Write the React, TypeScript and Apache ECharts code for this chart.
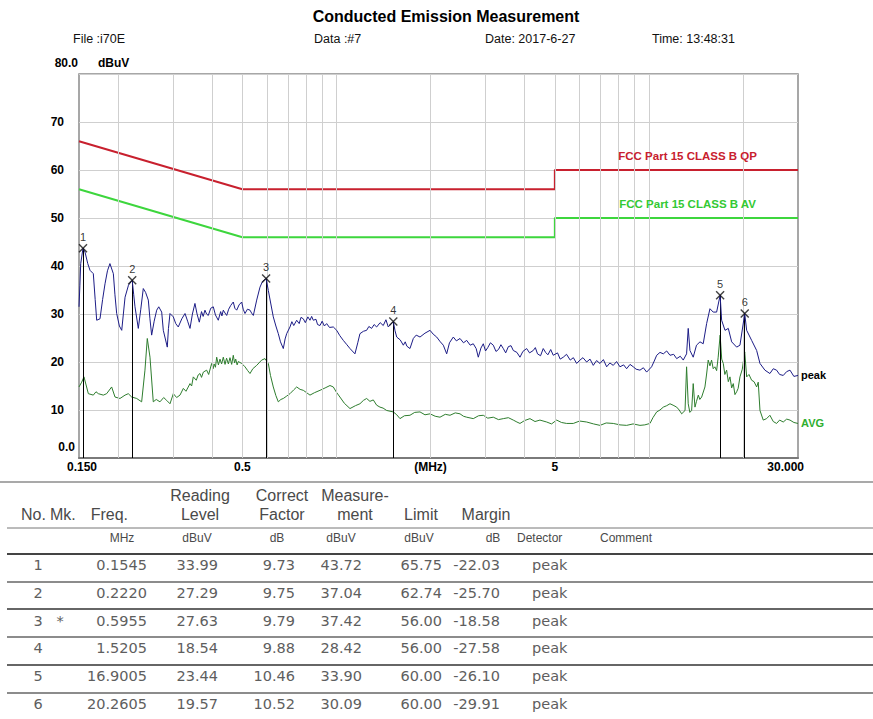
import React, { useEffect, useRef } from 'react';
import * as echarts from 'echarts';

// ---------- texts ----------
const chartTitle = 'Conducted Emission Measurement';
const headerItems = ['File :i70E', 'Data :#7', 'Date: 2017-6-27', 'Time: 13:48:31'];
const yUnit = 'dBuV';
const yTopLabel = '80.0';
const yBottomLabel = '0.0';
const yTickValues = [10, 20, 30, 40, 50, 60, 70];
const xTickValues = [0.15, 0.5, 2, 5, 30];
const xTickLabels = ['0.150', '0.5', '(MHz)', '5', '30.000'];
const gridFreqs = [0.2, 0.3, 0.4, 0.5, 0.6, 0.7, 0.8, 0.9, 1, 2, 3, 4, 5, 6, 7, 8, 9, 10, 20];

// ---------- limits ----------
const qpLimitName = 'FCC Part 15 CLASS B QP';
const avLimitName = 'FCC Part 15 CLASS B AV';
const limitFreq = [0.15, 0.5, 5, 5, 30];
const qpLimitVal = [66, 56, 56, 60, 60];
const avLimitVal = [56, 46, 46, 50, 50];
const limitLabelFreq = 13.3;

// ---------- traces (MHz, dBuV) ----------
const peakTrace: [number, number][] = [
  [0.150, 31.5], [0.1510, 36.0], [0.1519, 40.5], [0.1545, 43.72], [0.1568, 42.9], [0.1600, 40.5],
  [0.1627, 39.1], [0.1667, 38.4], [0.1690, 33.0], [0.1709, 28.7], [0.1751, 29.0], [0.1785, 33.0],
  [0.1817, 36.3], [0.1850, 39.0], [0.1884, 40.5], [0.1932, 38.4], [0.1955, 34.0], [0.1980, 30.1],
  [0.2020, 27.5], [0.2055, 26.6], [0.2080, 30.0], [0.2106, 33.5], [0.2160, 36.0], [0.2220, 37.04],
  [0.2245, 34.0], [0.2266, 31.5], [0.2322, 27.0], [0.2365, 31.0], [0.2409, 35.3], [0.2450, 34.5],
  [0.2500, 32.9], [0.2530, 29.0], [0.2562, 25.6], [0.2610, 28.5], [0.2659, 30.8], [0.2700, 31.5],
  [0.2759, 30.4], [0.2792, 26.6], [0.2875, 23.1], [0.2900, 27.0], [0.2933, 30.1], [0.3006, 29.4],
  [0.3060, 28.0], [0.3117, 27.3], [0.3200, 29.0], [0.3276, 30.1], [0.3340, 28.5], [0.3399, 27.0],
  [0.3460, 30.0], [0.3525, 32.2], [0.3580, 30.0], [0.3640, 28.3], [0.3700, 30.5], [0.3745, 29.5],
  [0.3795, 30.8], [0.3840, 30.0], [0.3889, 29.7], [0.3960, 31.2], [0.4035, 31.5], [0.4100, 29.8],
  [0.4186, 28.7], [0.4260, 30.5], [0.4300, 29.6], [0.4344, 30.8], [0.4400, 30.2], [0.4454, 29.7],
  [0.4520, 31.0], [0.4590, 31.8], [0.4676, 32.5], [0.4730, 31.2], [0.4794, 30.8], [0.4880, 31.9],
  [0.4974, 32.5], [0.5030, 31.0], [0.5097, 30.1], [0.5190, 31.0], [0.5289, 30.8], [0.5350, 30.2],
  [0.5420, 29.7], [0.5556, 32.9], [0.5693, 35.6], [0.5800, 36.8], [0.5955, 37.42], [0.6053, 34.9],
  [0.6150, 32.5], [0.6279, 29.4], [0.6400, 27.5], [0.6515, 25.9], [0.6620, 24.2], [0.6760, 22.8],
  [0.6850, 24.8], [0.6930, 25.9], [0.7101, 27.3], [0.7200, 28.4], [0.7300, 27.6], [0.7460, 28.7],
  [0.7600, 28.0], [0.7700, 29.3], [0.7833, 29.0], [0.7950, 28.2], [0.8100, 29.4], [0.8229, 28.7],
  [0.8330, 29.5], [0.8432, 28.7], [0.8600, 28.9], [0.8700, 27.8], [0.8858, 27.6], [0.9000, 28.5],
  [0.9150, 27.5], [0.9305, 28.0], [0.9500, 27.2], [0.9771, 27.3], [1.0017, 26.6], [1.025, 25.5],
  [1.052, 24.5], [1.080, 23.6], [1.105, 22.8], [1.146, 21.7], [1.170, 24.0], [1.189, 25.9],
  [1.220, 26.4], [1.249, 26.6], [1.270, 27.4], [1.296, 27.0], [1.320, 27.8], [1.345, 27.3],
  [1.380, 28.2], [1.412, 27.6], [1.440, 28.8], [1.465, 27.3], [1.5205, 28.42], [1.540, 26.5],
  [1.559, 25.2], [1.600, 24.6], [1.637, 23.5], [1.660, 24.2], [1.680, 23.3], [1.719, 22.8],
  [1.762, 24.9], [1.800, 25.6], [1.851, 25.2], [1.920, 26.0], [1.993, 26.6], [2.040, 25.8],
  [2.093, 25.2], [2.150, 24.2], [2.198, 23.5], [2.253, 21.7], [2.300, 24.0], [2.366, 25.2],
  [2.420, 24.4], [2.486, 24.9], [2.550, 24.0], [2.611, 24.5], [2.680, 23.5], [2.741, 23.8],
  [2.800, 22.8], [2.844, 21.0], [2.900, 22.9], [2.951, 23.8], [3.000, 22.3], [3.050, 23.0],
  [3.110, 24.0], [3.177, 23.5], [3.240, 22.2], [3.300, 22.6], [3.360, 23.6], [3.420, 22.8],
  [3.480, 21.9], [3.550, 23.2], [3.620, 23.4], [3.681, 22.4], [3.780, 22.0], [3.867, 21.0],
  [3.950, 22.2], [4.062, 22.8], [4.150, 21.9], [4.265, 22.4], [4.330, 23.0], [4.400, 21.7],
  [4.500, 21.3], [4.590, 22.8], [4.670, 22.0], [4.750, 21.5], [4.850, 22.6], [4.941, 21.4],
  [5.100, 21.9], [5.200, 20.6], [5.320, 21.0], [5.450, 21.6], [5.600, 20.4], [5.730, 20.9],
  [5.871, 19.7], [6.016, 20.4], [6.150, 20.9], [6.320, 20.0], [6.480, 20.6], [6.636, 19.3],
  [6.800, 20.3], [6.972, 19.7], [7.150, 20.5], [7.325, 19.0], [7.500, 19.8], [7.690, 19.3],
  [7.880, 20.1], [8.079, 19.0], [8.300, 19.4], [8.487, 18.6], [8.700, 19.5], [8.911, 19.0],
  [9.100, 18.5], [9.362, 18.3], [9.600, 18.8], [9.834, 17.9], [10.20, 19.0], [10.40, 20.2],
  [10.59, 21.4], [10.85, 22.0], [11.12, 21.7], [11.40, 22.3], [11.68, 21.4], [12.00, 21.6],
  [12.27, 20.7], [12.60, 21.2], [12.88, 20.4], [13.20, 21.7], [13.36, 27.0], [13.53, 22.4],
  [13.86, 21.0], [14.20, 23.5], [14.57, 24.2], [14.92, 23.8], [15.30, 28.0], [15.68, 31.1],
  [16.06, 30.4], [16.47, 30.4], [16.9005, 33.9], [17.09, 28.7], [17.52, 26.6], [17.95, 27.0],
  [18.40, 24.2], [19.09, 23.1], [19.56, 23.5], [20.2605, 30.09], [20.55, 26.6], [21.32, 24.5],
  [22.12, 22.4], [22.67, 19.7], [23.51, 18.3], [24.39, 17.6], [25.00, 18.6], [25.62, 18.3],
  [26.20, 17.4], [26.91, 17.2], [27.60, 18.0], [28.28, 18.3], [29.10, 17.0], [30.0, 17.2],
];

const avgTrace: [number, number][] = [
  [0.150, 14.8], [0.153, 15.8], [0.1556, 16.9], [0.1607, 13.4], [0.1667, 13.1], [0.1700, 13.8],
  [0.1730, 13.4], [0.1794, 13.1], [0.1839, 13.4], [0.1908, 14.8], [0.1956, 12.7], [0.2029, 12.4],
  [0.2106, 13.1], [0.2157, 13.4], [0.2212, 12.7], [0.2295, 12.4], [0.2380, 11.7], [0.2439, 18.3],
  [0.2481, 24.9], [0.2531, 21.0], [0.2593, 11.7], [0.2650, 12.2], [0.2724, 11.7], [0.2800, 12.6],
  [0.2862, 12.0], [0.2933, 11.3], [0.3006, 13.4], [0.3080, 12.6], [0.3157, 13.1], [0.3236, 14.5],
  [0.3300, 13.9], [0.3399, 15.5], [0.3440, 15.0], [0.3482, 16.9], [0.3560, 16.2], [0.3610, 17.3],
  [0.3659, 17.6], [0.3700, 16.8], [0.3750, 17.9], [0.3843, 18.3], [0.3900, 17.4], [0.3987, 19.7],
  [0.4030, 18.6], [0.4060, 19.6], [0.4100, 18.9], [0.4137, 21.0], [0.4190, 19.4], [0.4239, 20.6],
  [0.4290, 19.6], [0.4344, 21.0], [0.4400, 19.5], [0.4450, 20.8], [0.4510, 19.6], [0.4563, 20.9],
  [0.4620, 19.5], [0.4676, 21.4], [0.4720, 19.8], [0.4760, 20.6], [0.4810, 19.4], [0.4852, 20.1],
  [0.4974, 19.7], [0.5097, 19.0], [0.5200, 18.2], [0.5289, 17.6], [0.5400, 18.6], [0.5556, 19.3],
  [0.5763, 20.4], [0.5906, 20.7], [0.6053, 19.7], [0.6150, 17.2], [0.6279, 14.8], [0.6400, 13.0],
  [0.6515, 11.7], [0.6640, 12.2], [0.6760, 12.4], [0.6930, 12.9], [0.7101, 13.4], [0.7300, 14.2],
  [0.7460, 14.8], [0.7650, 14.3], [0.7833, 14.1], [0.8030, 13.6], [0.8229, 13.1], [0.8500, 13.6],
  [0.8858, 14.1], [0.9200, 14.6], [0.9534, 15.1], [0.9771, 14.8], [1.000, 13.7], [1.026, 12.7],
  [1.060, 11.4], [1.105, 10.3], [1.150, 10.9], [1.189, 11.3], [1.220, 12.0], [1.249, 12.4],
  [1.280, 11.8], [1.312, 12.1], [1.345, 11.0], [1.378, 10.6], [1.410, 10.4], [1.448, 9.9],
  [1.5205, 9.6], [1.560, 9.0], [1.597, 8.2], [1.650, 8.8], [1.719, 8.9], [1.780, 9.5],
  [1.851, 9.6], [1.920, 9.0], [1.993, 9.2], [2.070, 8.7], [2.145, 8.5], [2.230, 9.1],
  [2.309, 8.9], [2.400, 9.4], [2.486, 9.2], [2.550, 8.7], [2.611, 8.5], [2.741, 8.2],
  [2.850, 8.8], [2.951, 8.9], [3.050, 8.3], [3.177, 8.5], [3.300, 8.0], [3.420, 8.2],
  [3.550, 8.4], [3.681, 7.9], [3.780, 7.5], [3.867, 7.2], [4.000, 7.8], [4.162, 8.2],
  [4.320, 7.6], [4.480, 7.9], [4.707, 7.5], [4.880, 7.1], [5.067, 7.9], [5.250, 7.4],
  [5.454, 7.2], [5.727, 7.2], [6.000, 7.7], [6.320, 7.5], [6.650, 7.1], [6.972, 6.8],
  [7.300, 7.3], [7.690, 7.2], [8.080, 6.9], [8.487, 6.8], [8.900, 7.1], [9.362, 6.8],
  [9.700, 6.9], [10.08, 7.2], [10.30, 8.4], [10.59, 9.6], [10.85, 10.0], [11.12, 10.6],
  [11.40, 10.9], [11.68, 11.3], [11.95, 11.0], [12.27, 10.6], [12.50, 10.0], [12.73, 9.2],
  [13.05, 9.9], [13.20, 19.0], [13.36, 11.3], [13.52, 9.5], [13.70, 9.9], [13.86, 15.5],
  [14.04, 10.6], [14.20, 11.8], [14.39, 13.1], [14.55, 12.2], [14.75, 12.7], [15.11, 14.8],
  [15.30, 17.5], [15.48, 20.4], [15.68, 19.2], [15.87, 20.4], [16.06, 18.6], [16.26, 19.0],
  [16.47, 18.2], [16.66, 21.0], [16.9005, 25.6], [17.10, 20.6], [17.30, 19.7], [17.50, 17.4],
  [17.73, 18.3], [17.95, 15.9], [18.17, 16.9], [18.40, 14.6], [18.62, 15.5], [18.85, 13.2],
  [19.09, 13.8], [19.30, 14.5], [19.56, 16.9], [19.90, 18.5], [20.2605, 22.1], [20.55, 16.9],
  [20.90, 17.4], [21.32, 16.2], [21.70, 15.9], [22.12, 14.8], [22.38, 15.8], [22.67, 9.9],
  [23.22, 7.9], [23.80, 8.2], [24.39, 8.9], [25.00, 7.6], [25.62, 7.2], [26.20, 7.9],
  [26.91, 7.5], [27.60, 8.1], [28.28, 7.9], [29.10, 7.4], [30.0, 7.2],
];
const peakName = 'peak';
const avgName = 'AVG';

// ---------- marker table ----------
const tableHead1 = ['', '', '', 'Reading', 'Correct', 'Measure-', '', '', '', ''];
const tableHead2 = ['No.', 'Mk.', 'Freq.', 'Level', 'Factor', 'ment', 'Limit', 'Margin', '', ''];
const tableUnits = ['', '', 'MHz', 'dBuV', 'dB', 'dBuV', 'dBuV', 'dB', 'Detector', 'Comment'];
const markerNo = ['1', '2', '3', '4', '5', '6'];
const markerMk = ['', '', '*', '', '', ''];
const markerFreq = [0.1545, 0.222, 0.5955, 1.5205, 16.9005, 20.2605];
const readingLevel = [33.99, 27.29, 27.63, 18.54, 23.44, 19.57];
const correctFactor = [9.73, 9.75, 9.79, 9.88, 10.46, 10.52];
const measurement = [43.72, 37.04, 37.42, 28.42, 33.9, 30.09];
const limitValue = [65.75, 62.74, 56.0, 56.0, 60.0, 60.0];
const marginValue = [-22.03, -25.7, -18.58, -27.58, -26.1, -29.91];
const detector = ['peak', 'peak', 'peak', 'peak', 'peak', 'peak'];

const SANS = "'Liberation Sans', Arial, Helvetica, sans-serif";
const WIDE = "'DejaVu Sans', Verdana, sans-serif";

function txt(text: string, x: number, y: number, o: any = {}) {
  const align = o.align ?? 'left';
  return {
    type: 'text',
    x,
    y,
    silent: true,
    z: 100,
    style: {
      text,
      fontFamily: o.family ?? SANS,
      fontSize: o.size ?? 12,
      fontWeight: o.weight ?? 'normal',
      fill: o.color ?? '#000',
      align,
      textAlign: align,
      verticalAlign: 'middle',
      textVerticalAlign: 'middle',
    },
  };
}

function hline(y: number, x1: number, x2: number, color: string, w: number) {
  return {
    type: 'line',
    silent: true,
    z: 100,
    shape: { x1, y1: y, x2, y2: y },
    style: { stroke: color, lineWidth: w },
  };
}

export default function App() {
  const ref = useRef<HTMLDivElement>(null);

  useEffect(() => {
    document.body.style.margin = '0';
    const chart = echarts.init(ref.current as HTMLDivElement, null, { renderer: 'svg' });

    const option: any = {
      animation: false,
      backgroundColor: '#ffffff',
      grid: {
        left: 79,
        right: 75,
        top: 74,
        bottom: 261,
        show: true,
        borderColor: '#8a8a8a',
        borderWidth: 1.5,
        backgroundColor: 'transparent',
      },
      xAxis: {
        type: 'log',
        logBase: 10,
        min: 0.15,
        max: 30,
        axisLine: { show: true, lineStyle: { color: '#7a7a7a', width: 2 } },
        axisTick: { show: false },
        axisLabel: { show: false },
        splitLine: { show: false },
        minorTick: { show: false },
        minorSplitLine: { show: false },
      },
      yAxis: {
        type: 'value',
        min: 0,
        max: 80,
        interval: 10,
        axisLine: { show: false },
        axisTick: { show: false },
        splitLine: { show: true, lineStyle: { color: '#cfcfcf', width: 1 } },
        axisLabel: {
          formatter: (v: number) => (yTickValues.indexOf(v) >= 0 ? String(v) : ''),
          fontFamily: SANS,
          fontWeight: 'bold',
          fontSize: 12,
          color: '#000',
          margin: 15,
        },
      },
      series: [
        {
          name: 'grid',
          type: 'line',
          data: [],
          silent: true,
          z: 1,
          markLine: {
            silent: true,
            symbol: ['none', 'none'],
            label: { show: false },
            lineStyle: { color: '#cfcfcf', width: 1, type: 'solid' },
            data: gridFreqs.map((f) => ({ xAxis: f })),
          },
        },
        {
          name: qpLimitName,
          type: 'line',
          data: limitFreq.map((f, i) => [f, qpLimitVal[i]]),
          symbol: 'none',
          silent: true,
          z: 3,
          lineStyle: { color: '#c8202e', width: 2 },
          markPoint: {
            silent: true,
            symbol: 'circle',
            symbolSize: 0,
            data: [{ coord: [limitLabelFreq, qpLimitVal[4]] }],
            label: {
              show: true,
              position: 'top',
              distance: 8,
              formatter: qpLimitName,
              color: '#c8202e',
              fontWeight: 'bold',
              fontSize: 11.5,
              fontFamily: SANS,
            },
          },
        },
        {
          name: avLimitName,
          type: 'line',
          data: limitFreq.map((f, i) => [f, avLimitVal[i]]),
          symbol: 'none',
          silent: true,
          z: 3,
          lineStyle: { color: '#3dd63d', width: 2 },
          markPoint: {
            silent: true,
            symbol: 'circle',
            symbolSize: 0,
            data: [{ coord: [limitLabelFreq, avLimitVal[4]] }],
            label: {
              show: true,
              position: 'top',
              distance: 8,
              formatter: avLimitName,
              color: '#33c933',
              fontWeight: 'bold',
              fontSize: 11.5,
              fontFamily: SANS,
            },
          },
        },
        {
          name: avgName,
          type: 'line',
          data: avgTrace,
          symbol: 'none',
          silent: true,
          z: 4,
          lineStyle: { color: '#2e7d2e', width: 1 },
          endLabel: {
            show: true,
            formatter: avgName,
            color: '#2fae2f',
            fontWeight: 'bold',
            fontSize: 11,
            fontFamily: SANS,
            distance: 3,
          },
        },
        {
          name: peakName,
          type: 'line',
          data: peakTrace,
          symbol: 'none',
          silent: true,
          z: 5,
          lineStyle: { color: '#1c1c86', width: 1 },
          endLabel: {
            show: true,
            formatter: peakName,
            color: '#000',
            fontWeight: 'bold',
            fontSize: 11,
            fontFamily: SANS,
            distance: 3,
          },
        },
        {
          name: 'markers',
          type: 'scatter',
          data: markerFreq.map((f, i) => [f, measurement[i]]),
          symbol: 'path://M0,0L10,10M10,0L0,10',
          symbolSize: 8,
          silent: true,
          z: 6,
          itemStyle: { color: 'rgba(0,0,0,0)', borderColor: '#111', borderWidth: 1.4 },
          label: {
            show: true,
            position: 'top',
            distance: 1,
            formatter: (p: any) => markerNo[p.dataIndex],
            color: '#000',
            fontSize: 11,
            fontFamily: SANS,
          },
          markLine: {
            silent: true,
            symbol: ['none', 'none'],
            label: { show: false },
            lineStyle: { color: '#000', width: 1, type: 'solid' },
            data: markerFreq.map((f, i) => [{ coord: [f, 0] }, { coord: [f, measurement[i]] }]),
          },
        },
      ],
    };

    chart.setOption(option);

    // ---------- texts and table ----------
    const g: any[] = [];
    g.push(txt(chartTitle, 446, 16, { size: 16, weight: 'bold', align: 'center' }));
    const headerX = [73, 314, 485, 652];
    headerItems.forEach((h, i) => g.push(txt(h, headerX[i], 39, { size: 12.5, color: '#111' })));
    g.push(txt(yTopLabel, 78, 63, { weight: 'bold', align: 'right' }));
    g.push(txt(yUnit, 98, 63, { weight: 'bold' }));
    g.push(txt(yBottomLabel, 75, 447, { weight: 'bold', align: 'right' }));

    xTickValues.forEach((v, i) => {
      const px = chart.convertToPixel({ xAxisIndex: 0 }, v) as number;
      const last = i === xTickValues.length - 1;
      const first = i === 0;
      g.push(
        txt(xTickLabels[i], last ? px + 6 : first ? px + 3 : px, 467, {
          weight: 'bold',
          align: last ? 'right' : 'center',
        })
      );
    });

    // table layout
    const headX = [21, 50, 128, 200, 282, 355, 421, 486, 0, 0];
    const headAlign = ['left', 'left', 'right', 'center', 'center', 'center', 'center', 'center', 'left', 'left'];
    const unitX = [0, 0, 122, 197, 277, 341, 419, 493, 517, 600];
    const unitAlign = ['left', 'left', 'center', 'center', 'center', 'center', 'center', 'center', 'left', 'left'];
    const colX = [38, 60, 147, 218, 295, 362, 442, 500, 532];
    const colAlign = ['center', 'center', 'right', 'right', 'right', 'right', 'right', 'right', 'left'];
    const tcol = '#4a4a4a';

    g.push(hline(482, 0, 873, '#555', 1.2));
    g.push(hline(528, 7, 873, '#777', 1));
    g.push(hline(554, 7, 873, '#444', 2));
    const rowLineY = [582, 609, 637, 665, 693];
    rowLineY.forEach((y, i) => g.push(hline(y, 7, 873, i % 2 === 1 ? '#333' : '#666', 1.3)));

    tableHead1.forEach((t, i) => {
      if (t) g.push(txt(t, headX[i], 495, { size: 16, color: tcol, align: headAlign[i] }));
    });
    tableHead2.forEach((t, i) => {
      if (t) g.push(txt(t, headX[i], 514, { size: 16, color: tcol, align: headAlign[i] }));
    });
    tableUnits.forEach((t, i) => {
      if (t) g.push(txt(t, unitX[i], 538, { size: 12, color: tcol, align: unitAlign[i] }));
    });

    markerNo.forEach((no, r) => {
      const y = 565 + r * 27.8;
      const cells = [
        no,
        markerMk[r],
        markerFreq[r].toFixed(4),
        readingLevel[r].toFixed(2),
        correctFactor[r].toFixed(2),
        measurement[r].toFixed(2),
        limitValue[r].toFixed(2),
        marginValue[r].toFixed(2),
        detector[r],
      ];
      cells.forEach((c, i) => {
        if (c) g.push(txt(c, colX[i], y, { size: 14.5, family: WIDE, color: '#5e5e5e', align: colAlign[i] }));
      });
    });

    chart.setOption({ graphic: g });

    return () => {
      chart.dispose();
    };
  }, []);

  return <div ref={ref} style={{ width: 873, height: 719 }} />;
}
